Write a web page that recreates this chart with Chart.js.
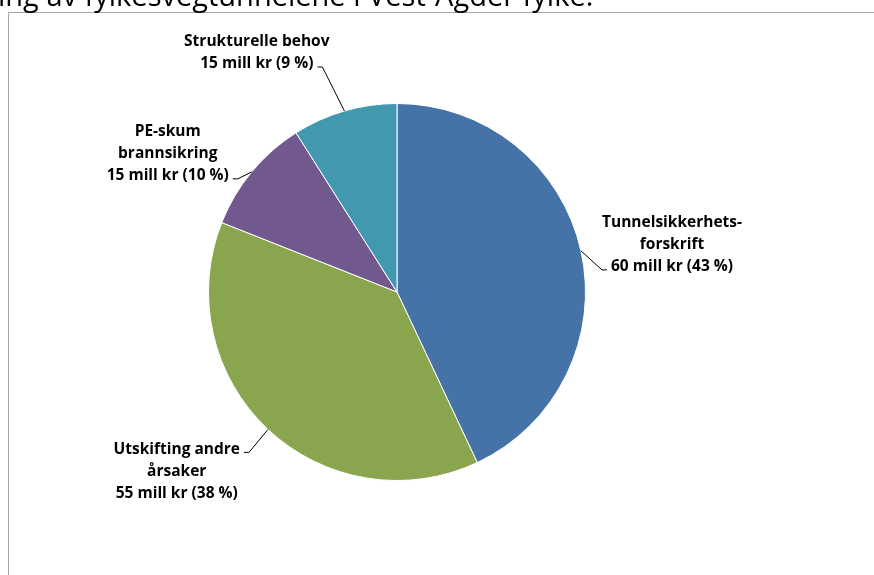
<!DOCTYPE html>
<html>
<head>
<meta charset="utf-8">
<script src="https://cdn.jsdelivr.net/npm/chart.js@4"></script>
<style>
  html, body { margin: 0; padding: 0; background: #fff; }
  body { width: 874px; height: 575px; overflow: hidden; position: relative; }
  #frame { position: absolute; left: 8px; top: 12px; width: 880px; height: 600px; border: 1px solid #a6a6a6; box-sizing: border-box; }
  #chart { position: absolute; left: 0; top: 0; }
</style>
</head>
<body>
<div id="frame"></div>
<canvas id="chart" width="874" height="575"></canvas>
<script>
// overskrift (toppen er kuttet i originalen)
const titleText = "ing av fylkesvegtunnelene i Vest-Agder fylke.";

const categories = [
  ["Tunnelsikkerhets-", "forskrift"],
  ["Utskifting andre", "årsaker"],
  ["PE-skum", "brannsikring"],
  ["Strukturelle behov"]
];
const amounts = [60, 55, 15, 15]; // mill kr
const shares = [43, 38, 10, 9];   // prosent
const colors = ["#4572A7", "#89A54E", "#71588F", "#4198AF"];

// hvor etikettene står i forhold til sektoren
const labelLayout = [
  { elbow: [21, 19], side: "right", anchorLine: 2 },
  { elbow: [-19, 23], side: "left", anchorLine: 0 },
  { elbow: [-14, 7], side: "left", anchorLine: 2 },
  { elbow: [-22, -44], side: "left", anchorLine: 1 }
];
const lineHeight = 22;

const labelPlugin = {
  id: "sliceLabels",
  afterDraw(chart) {
    const ctx = chart.ctx;
    const arcs = chart.getDatasetMeta(0).data;

    ctx.save();
    ctx.fillStyle = "#000";
    ctx.strokeStyle = "#000";
    ctx.lineWidth = 1;

    ctx.font = "29px 'Open Sans'";
    ctx.textAlign = "left";
    ctx.textBaseline = "alphabetic";
    ctx.fillText(titleText, -2, 6);

    ctx.font = "bold 15.5px 'Open Sans'";
    arcs.forEach((arc, i) => {
      const { x, y, startAngle, endAngle, outerRadius } =
        arc.getProps(["x", "y", "startAngle", "endAngle", "outerRadius"], true);
      const mid = (startAngle + endAngle) / 2;
      const px = x + Math.cos(mid) * outerRadius;
      const py = y + Math.sin(mid) * outerRadius;
      const lay = labelLayout[i];
      const dir = lay.side === "right" ? 1 : -1;
      const ex = px + lay.elbow[0];
      const ey = py + lay.elbow[1];
      const hx = ex + dir * 5;

      ctx.beginPath();
      ctx.moveTo(px, py);
      ctx.lineTo(ex, ey);
      ctx.lineTo(hx, ey);
      ctx.stroke();

      const lines = [...categories[i], `${amounts[i]} mill kr (${shares[i]} %)`];
      const anchorW = ctx.measureText(lines[lay.anchorLine]).width;
      const cx = hx + dir * (4 + anchorW / 2);
      const firstY = ey - 3 - lay.anchorLine * lineHeight;
      ctx.textAlign = "center";
      ctx.textBaseline = "middle";
      lines.forEach((t, k) => ctx.fillText(t, cx, firstY + k * lineHeight));
    });
    ctx.restore();
  }
};

new Chart(document.getElementById("chart"), {
  type: "pie",
  data: {
    labels: categories.map(c => c.join(" ")),
    datasets: [{
      data: shares,
      backgroundColor: colors,
      borderColor: "#ffffff",
      borderWidth: 1
    }]
  },
  options: {
    responsive: false,
    animation: false,
    layout: { padding: { left: 208, right: 288, top: 103, bottom: 94 } },
    plugins: {
      legend: { display: false },
      tooltip: { enabled: false }
    }
  },
  plugins: [labelPlugin]
});
</script>
</body>
</html>
